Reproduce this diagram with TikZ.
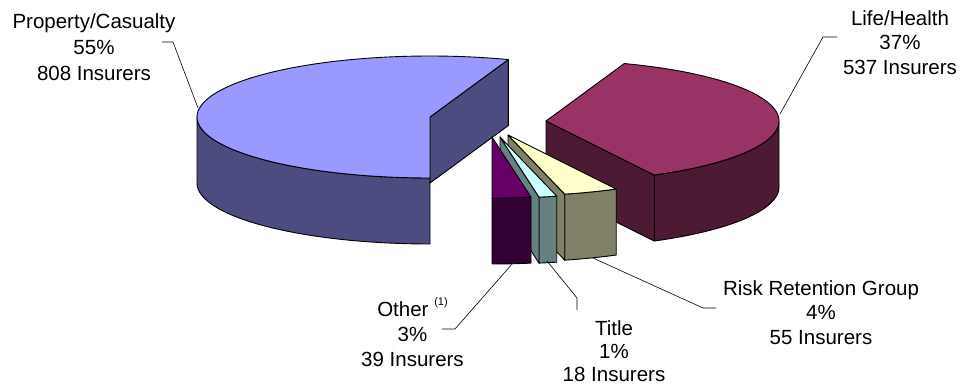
\documentclass[tikz,border=0pt]{standalone}
\usepackage{fontspec}
\setmainfont{Liberation Sans}
\definecolor{pcTop}{HTML}{9999FF}
\definecolor{pcSide}{HTML}{4C4C80}
\definecolor{lhTop}{HTML}{993366}
\definecolor{lhSide}{HTML}{4D1A33}
\definecolor{rrTop}{HTML}{FFFFCC}
\definecolor{rrSide}{HTML}{808066}
\definecolor{tiTop}{HTML}{CCFFFF}
\definecolor{tiSide}{HTML}{668080}
\definecolor{otTop}{HTML}{660066}
\definecolor{otSide}{HTML}{330033}
% cx, cy, from, to, colour
\newcommand{\PieWall}[5]{%
  \filldraw[slice, fill=#5] plot[domain=#3:#4, samples=60, variable=\t] ({#1+233*cos(\t)},{#2-61*sin(\t)}) -- plot[domain=#4:#3, samples=60, variable=\t] ({#1+233*cos(\t)},{#2+66-61*sin(\t)}) -- cycle;}
% cx, cy, angle, colour
\newcommand{\PieCut}[4]{%
  \filldraw[slice, fill=#4] (#1,#2) -- ({#1+233*cos(#3)},{#2-61*sin(#3)}) -- ({#1+233*cos(#3)},{#2+66-61*sin(#3)}) -- (#1,{#2+66}) -- cycle;}
% cx, cy, from, to, colour
\newcommand{\PieTop}[5]{%
  \filldraw[slice, fill=#5] (#1,#2) -- plot[domain=#3:#4, samples=90, variable=\t] ({#1+233*cos(\t)},{#2-61*sin(\t)}) -- cycle;}
\tikzset{
  slice/.style={draw=black, line width=0.9pt, line join=round},
  leader/.style={draw=black, line width=0.6pt},
  lbl/.style={align=center, inner sep=0pt, anchor=north, font=\fontsize{20.5pt}{24.7pt}\selectfont}
}
\begin{document}
\begin{tikzpicture}[x=1pt, y=-1pt]
\useasboundingbox (0,0) rectangle (964,387);
% Property/Casualty
\PieWall{430}{117}{180}{270}{pcSide}
\PieCut{430}{117}{70.36}{pcSide}
\PieTop{430}{117}{70.36}{270}{pcTop}
% Life/Health
\PieWall{546}{121}{297.68}{360}{lhSide}
\PieCut{546}{121}{297.68}{lhSide}
\PieTop{546}{121}{297.68}{430.37}{lhTop}
% Risk Retention Group
\PieWall{508}{135}{284.09}{297.68}{rrSide}
\PieCut{508}{135}{284.09}{rrSide}
\PieTop{508}{135}{284.09}{297.68}{rrTop}
% Title
\PieWall{500}{137}{279.64}{284.09}{tiSide}
\PieCut{500}{137}{279.64}{tiSide}
\PieTop{500}{137}{279.64}{284.09}{tiTop}
% Other
\PieWall{492}{137}{270}{279.64}{otSide}
\PieTop{492}{137}{270}{279.64}{otTop}
% labels
\node[lbl, font=\fontsize{20.5pt}{26pt}\selectfont] (pcLabel) at (94,13) {Property/Casualty\\55\%\\808 Insurers};
\node[lbl] (lhLabel) at (900,10) {Life/Health\\37\%\\537 Insurers};
\node[lbl] (rrLabel) at (821,280) {Risk Retention Group\\4\%\\55 Insurers};
\node[lbl, font=\fontsize{20.5pt}{23.3pt}\selectfont] (tiLabel) at (614,320) {Title\\1\%\\18 Insurers};
\node[lbl] (otLabel) at (412.5,297.5) {Other \raisebox{11pt}{\fontsize{11pt}{11pt}\selectfont(1)}\\3\%\\39 Insurers};
% leader lines
\coordinate (pcTip) at (198,108); \coordinate (pcBend) at (173,42); \coordinate (pcEnd) at (162,42);
\coordinate (lhTip) at (780,114); \coordinate (lhBend) at (823,37); \coordinate (lhEnd) at (837,37);
\coordinate (rrTip) at (593,258); \coordinate (rrBend) at (703,308); \coordinate (rrEnd) at (716,308);
\coordinate (tiTip) at (547,261); \coordinate (tiBend) at (577,298); \coordinate (tiEnd) at (577,310);
\coordinate (otTip) at (513,263); \coordinate (otBend) at (455,329); \coordinate (otEnd) at (442,329);
\draw[leader] (pcTip) -- (pcBend) -- (pcEnd);
\draw[leader] (lhTip) -- (lhBend) -- (lhEnd);
\draw[leader] (rrTip) -- (rrBend) -- (rrEnd);
\draw[leader] (tiTip) -- (tiBend) -- (tiEnd);
\draw[leader] (otTip) -- (otBend) -- (otEnd);
\end{tikzpicture}
\end{document}
